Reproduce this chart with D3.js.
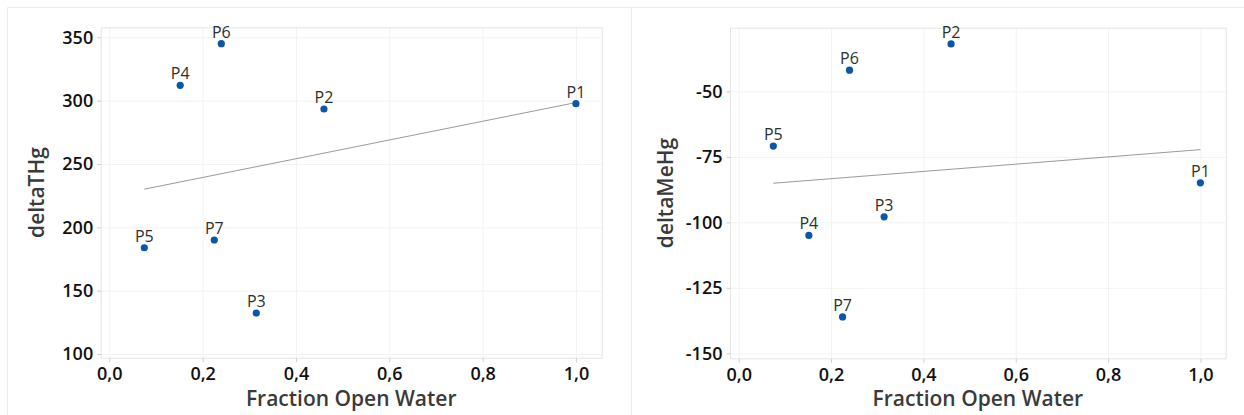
<!DOCTYPE html>
<html>
<head>
<meta charset="utf-8">
<script src="https://cdn.jsdelivr.net/npm/d3@7"></script>
<style>
  html, body { margin: 0; padding: 0; background: #ffffff; }
  svg { display: block; font-family: "Open Sans", "Noto Sans", sans-serif; }
</style>
</head>
<body>
<svg id="chart" width="1244" height="415"></svg>
<script>
// ---- data ----
const sites = ["P1", "P2", "P3", "P4", "P5", "P6", "P7"];
const fractionOpenWater = [1.0, 0.46, 0.315, 0.152, 0.075, 0.24, 0.225];
const deltaTHg = [297.6, 293.4, 132.4, 312.1, 183.9, 345.0, 190.0];
const deltaMeHg = [-84.9, -31.9, -97.9, -105.0, -70.9, -41.9, -136.1];
const xTicks = [0, 0.2, 0.4, 0.6, 0.8, 1.0];
const thgTicks = [100, 150, 200, 250, 300, 350];
const mehgTicks = [-150, -125, -100, -75, -50];
const xTitle = "Fraction Open Water";
const thgTitle = "deltaTHg";
const mehgTitle = "deltaMeHg";

const svg = d3.select("#chart");
svg.append("rect").attr("width", 1244).attr("height", 415).attr("fill", "#fff");

// panel borders
const borderColor = "#ececec";
svg.append("line").attr("x1", 7.5).attr("x2", 1244).attr("y1", 7.5).attr("y2", 7.5).attr("stroke", borderColor);
svg.append("line").attr("x1", 7.5).attr("x2", 7.5).attr("y1", 7.5).attr("y2", 415).attr("stroke", borderColor);
svg.append("line").attr("x1", 631.5).attr("x2", 631.5).attr("y1", 7.5).attr("y2", 415).attr("stroke", borderColor);

const commaFmt = v => d3.format(".1f")(v).replace(".", ",");
const intFmt = v => String(Math.round(v));

function regression(xs, ys) {
  const mx = d3.mean(xs), my = d3.mean(ys);
  let sxy = 0, sxx = 0;
  xs.forEach((x, i) => { sxy += (x - mx) * (ys[i] - my); sxx += (x - mx) * (x - mx); });
  const b = sxy / sxx;
  return { a: my - b * mx, b };
}

function drawPanel(cfg) {
  const { left, right, top, bottom, yDomain, yValues, yTicks, yTitle, yTitleX, xDomain } = cfg;
  const x = d3.scaleLinear().domain(xDomain).range([left, right]);
  const y = d3.scaleLinear().domain(yDomain).range([bottom, top]);
  const g = svg.append("g");

  // gridlines
  g.append("g").selectAll("line").data(xTicks).join("line")
    .attr("x1", d => x(d) + 0.5).attr("x2", d => x(d) + 0.5)
    .attr("y1", top).attr("y2", bottom)
    .attr("stroke", "#f3f3f3");
  g.append("g").selectAll("line").data(yTicks).join("line")
    .attr("y1", d => y(d) + 0.5).attr("y2", d => y(d) + 0.5)
    .attr("x1", left).attr("x2", right)
    .attr("stroke", "#f3f3f3");

  // frame
  g.append("rect").attr("x", left + 0.5).attr("y", top + 0.5)
    .attr("width", right - left).attr("height", bottom - top)
    .attr("fill", "none").attr("stroke", "#e4e4e4");

  // axes
  const xAxis = d3.axisBottom(x).tickValues(xTicks).tickFormat(commaFmt).tickSizeOuter(0).tickSize(4).tickPadding(5);
  const yAxis = d3.axisLeft(y).tickValues(yTicks).tickFormat(intFmt).tickSizeOuter(0).tickSize(4).tickPadding(4);
  const gx = g.append("g").attr("transform", `translate(0,${bottom + 0.5})`).call(xAxis);
  const gy = g.append("g").attr("transform", `translate(${left + 0.5},0)`).call(yAxis);
  [gx, gy].forEach(a => {
    a.select(".domain").remove();
    a.selectAll(".tick line").attr("stroke", "#cfcfcf");
    a.selectAll(".tick text").attr("fill", "#111").attr("font-size", 18).attr("font-weight", 600)
      .attr("font-family", "'Open Sans', sans-serif");
  });

  // regression line
  const r = regression(fractionOpenWater, yValues);
  const xr = d3.extent(fractionOpenWater);
  g.append("line")
    .attr("x1", x(xr[0])).attr("y1", y(r.a + r.b * xr[0]))
    .attr("x2", x(xr[1])).attr("y2", y(r.a + r.b * xr[1]))
    .attr("stroke", "#9a9a9a").attr("stroke-width", 1);

  // points
  const pts = sites.map((s, i) => ({ s, x: fractionOpenWater[i], y: yValues[i] }));
  g.append("g").selectAll("circle").data(pts).join("circle")
    .attr("cx", d => x(d.x)).attr("cy", d => y(d.y)).attr("r", 3.6)
    .attr("fill", "#0a56a8");
  g.append("g").selectAll("text").data(pts).join("text")
    .attr("x", d => x(d.x)).attr("y", d => y(d.y) - 6)
    .attr("text-anchor", "middle").attr("font-size", 16).attr("fill", "#2e2e2e")
    .text(d => d.s);

  // titles
  g.append("text").attr("x", (left + right) / 2).attr("y", 406)
    .attr("text-anchor", "middle").attr("font-size", 21).attr("font-weight", 600).attr("fill", "#3a3a3a")
    .text(xTitle);
  g.append("text").attr("transform", `translate(${yTitleX},${(top + bottom) / 2}) rotate(-90)`)
    .attr("text-anchor", "middle").attr("font-size", 21).attr("font-weight", 600).attr("fill", "#3a3a3a")
    .text(yTitle);
}

drawPanel({
  left: 100.7, right: 601.7, top: 27.3, bottom: 357.7,
  xDomain: [-0.0184, 1.0552],
  yDomain: [97.1, 357.9], yValues: deltaTHg, yTicks: thgTicks, yTitle: thgTitle, yTitleX: 44
});
drawPanel({
  left: 730, right: 1225.7, top: 27.7, bottom: 358.3,
  xDomain: [-0.0188, 1.0548],
  yDomain: [-151.9, -25.7], yValues: deltaMeHg, yTicks: mehgTicks, yTitle: mehgTitle, yTitleX: 673
});
</script>
</body>
</html>
